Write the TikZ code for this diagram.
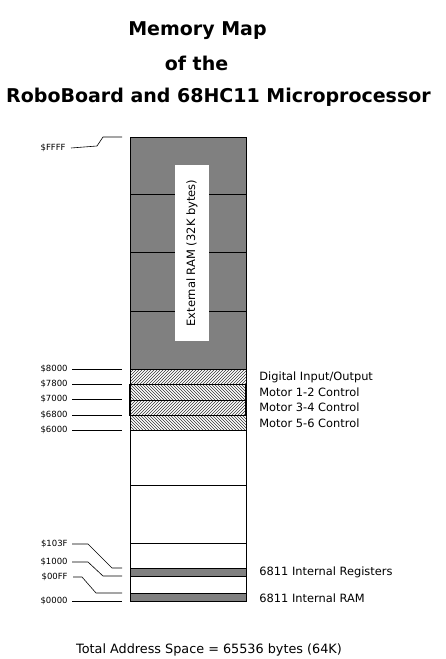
\documentclass[tikz,border=0pt]{standalone}
\usepackage{fontspec}
\setmainfont{DejaVu Sans}
\usetikzlibrary{patterns}
\begin{document}
\begin{tikzpicture}[x=1pt, y=-1pt, line width=0.8pt,
    headline/.style={font=\bfseries\fontsize{19}{22}\selectfont, inner sep=0pt},
    addr/.style={anchor=east, font=\fontsize{8.5}{9}\selectfont, inner sep=0pt},
    region/.style={anchor=west, font=\fontsize{11.4}{13}\selectfont, inner sep=0pt},
    lead/.style={line width=0.6pt}]
  \useasboundingbox (0,0) rectangle (446,659);
  % title
  \node[headline] (title1) at (197.5,31) {Memory Map};
  \node[headline] (title2) at (196.5,63) {of the};
  \node[headline] (title3) at (218.5,97) {RoboBoard and 68HC11 Microprocessor};
  % external RAM
  \fill[black!50] (130,137) rectangle (246,369);
  \foreach \y in {194,252,311}
    \draw (130,\y) -- (246,\y);
  \node[fill=white, rotate=90, minimum width=176pt, minimum height=34pt, inner sep=0pt,
        font=\fontsize{11.5}{13}\selectfont] (rambox) at (192,253) {External RAM (32K bytes)};
  % I/O and motor blocks
  \foreach \ya/\yb/\pat in {369/384/north east lines,384/400/north west lines,400/415/north east lines,415/430/north west lines}
    \draw[pattern=\pat, pattern color=black!80] (130,\ya) rectangle (246,\yb);
  \draw (129,384) rectangle (245,415);
  % lower part
  \draw (130,430) rectangle (246,601);
  \foreach \y in {485,543}
    \draw (130,\y) -- (246,\y);
  \draw[fill=black!50] (130,568) rectangle (246,576);
  \draw[fill=black!50] (130,593) rectangle (246,601);
  \draw (130,137) rectangle (246,601);
  % addresses
  \node[addr] (aFFFF) at (66,148) {\$FFFF};
  \coordinate (tFFFF) at (122,137);
  \draw[lead] ([xshift=5pt]aFFFF.east) -- (97,146) -- (103,137) -- (tFFFF);
  \foreach \adr/\y in {8000/369,7800/384,7000/399,6800/415,6000/430,0000/601} {
    \node[addr] (a\adr) at (68,\y) {\$\adr};
    \coordinate (t\adr) at (122,\y);
    \draw[lead] ([xshift=4pt]a\adr.east) -- (t\adr);
  }
  \node[addr] (a103F) at (68,544) {\$103F};
  \coordinate (t103F) at (122,568);
  \draw[lead] ([xshift=4pt]a103F.east) -- (88,544) -- (112,568) -- (t103F);
  \node[addr] (a1000) at (68,562) {\$1000};
  \coordinate (t1000) at (122,576);
  \draw[lead] ([xshift=4pt]a1000.east) -- (88,562) -- (103,576) -- (t1000);
  \node[addr] (a00FF) at (68,577) {\$00FF};
  \coordinate (t00FF) at (122,593);
  \draw[lead] ([xshift=5pt]a00FF.east) -- (82,577) -- (96,593) -- (t00FF);
  % region names
  \node[region] (dio) at (259,377) {Digital Input/Output};
  \node[region] (m12) at (259,392) {Motor 1-2 Control};
  \node[region] (m34) at (259,407) {Motor 3-4 Control};
  \node[region] (m56) at (259,423) {Motor 5-6 Control};
  \node[region] (ireg) at (259,572) {6811 Internal Registers};
  \node[region] (iram) at (259,598) {6811 Internal RAM};
  \node[font=\fontsize{12.8}{14}\selectfont, inner sep=0pt] (total) at (209,650) {Total Address Space = 65536 bytes (64K)};
\end{tikzpicture}
\end{document}
